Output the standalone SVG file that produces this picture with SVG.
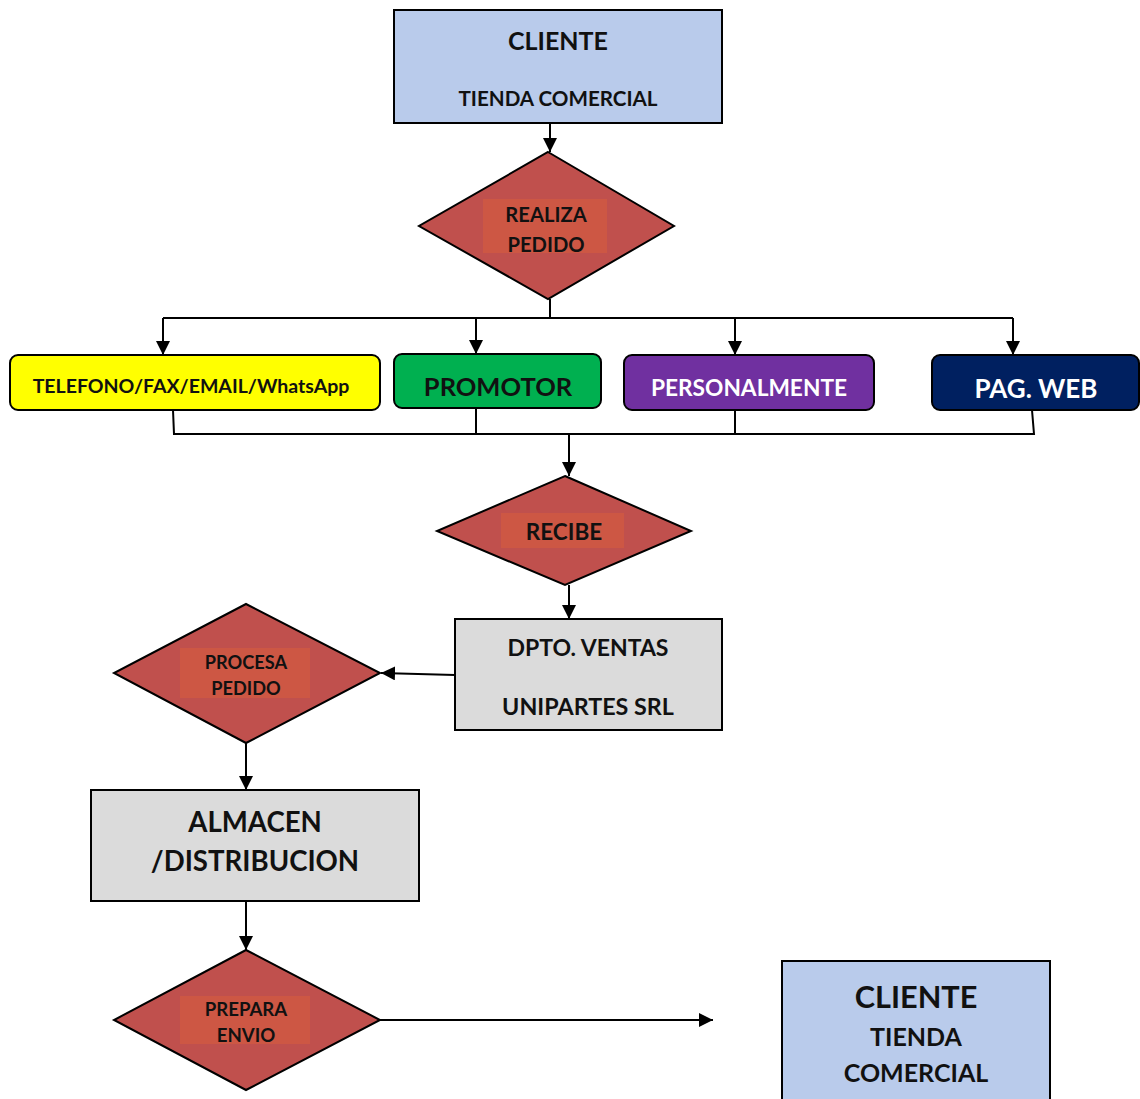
<svg xmlns="http://www.w3.org/2000/svg" width="1140" height="1099" viewBox="0 0 1140 1099">
<style>
text{font-family:Lato,"Open Sans","Liberation Sans",sans-serif;font-weight:bold;text-anchor:middle;dominant-baseline:central;fill:#111}
.w{fill:#fff}
.dia{fill:#C0504D;stroke:#000;stroke-width:2}
.inner{fill:#CD5744}
.box{stroke:#000;stroke-width:2}
.c{fill:none;stroke:#000;stroke-width:2}
</style>
<defs>
<marker id="a" viewBox="0 0 14 14" refX="14" refY="7" markerWidth="14" markerHeight="14" markerUnits="userSpaceOnUse" orient="auto">
<path d="M0,0 L14,7 L0,14 z" fill="#000"/>
</marker>
</defs>
<g id="connectors">
<line class="c" x1="550" y1="123" x2="550" y2="152" marker-end="url(#a)"/>
<polyline class="c" points="550,299 550,318"/>
<line class="c" x1="163" y1="318" x2="1013" y2="318"/>
<line class="c" x1="163" y1="318" x2="163" y2="355" marker-end="url(#a)"/>
<line class="c" x1="476" y1="318" x2="476" y2="354" marker-end="url(#a)"/>
<line class="c" x1="735" y1="318" x2="735" y2="355" marker-end="url(#a)"/>
<line class="c" x1="1013" y1="318" x2="1013" y2="355" marker-end="url(#a)"/>
<polyline class="c" points="173,410 174,434 1034,434 1032,410"/>
<line class="c" x1="476" y1="408" x2="476" y2="434"/>
<line class="c" x1="735" y1="410" x2="735" y2="434"/>
<line class="c" x1="569" y1="434" x2="569" y2="476" marker-end="url(#a)"/>
<line class="c" x1="569" y1="585" x2="569" y2="619" marker-end="url(#a)"/>
<line class="c" x1="455" y1="675" x2="381" y2="673" marker-end="url(#a)"/>
<line class="c" x1="246" y1="743" x2="246" y2="790" marker-end="url(#a)"/>
<line class="c" x1="246" y1="901" x2="246" y2="950" marker-end="url(#a)"/>
<line class="c" x1="380" y1="1020" x2="713" y2="1020" marker-end="url(#a)"/>
</g>
<g id="cliente-top">
<rect class="box" x="394" y="10" width="328" height="113" fill="#B9CBEB"/>
<text x="558" y="40" font-size="25">CLIENTE</text>
<text x="558" y="98" font-size="20.6">TIENDA COMERCIAL</text>
</g>
<g id="realiza-pedido">
<polygon class="dia" points="548,152 674,226 548,299 419,226"/>
<rect class="inner" x="483" y="199" width="124" height="54"/>
<text x="546" y="214" font-size="20.2">REALIZA</text>
<text x="546" y="244" font-size="20.2">PEDIDO</text>
</g>
<g id="telefono">
<rect class="box" x="10" y="355" width="370" height="55" rx="8" fill="#FFFF00"/>
<text x="191" y="385" font-size="19.5">TELEFONO/FAX/EMAIL/WhatsApp</text>
</g>
<g id="promotor">
<rect class="box" x="394" y="354" width="207" height="54" rx="8" fill="#00B050"/>
<text x="498" y="386" font-size="25.5">PROMOTOR</text>
</g>
<g id="personalmente">
<rect class="box" x="624" y="355" width="250" height="55" rx="8" fill="#7030A0"/>
<text class="w" x="749" y="387" font-size="22.7">PERSONALMENTE</text>
</g>
<g id="pagweb">
<rect class="box" x="932" y="355" width="207" height="55" rx="8" fill="#002060"/>
<text class="w" x="1036" y="388" font-size="26">PAG. WEB</text>
</g>
<g id="recibe">
<polygon class="dia" points="565,476 691,531 565,585 437,531"/>
<rect class="inner" x="501" y="513" width="123" height="35"/>
<text x="564" y="531" font-size="22.5">RECIBE</text>
</g>
<g id="dpto-ventas">
<rect class="box" x="455" y="619" width="267" height="111" fill="#DBDBDB"/>
<text x="588" y="647" font-size="23">DPTO. VENTAS</text>
<text x="588" y="706" font-size="23.3">UNIPARTES SRL</text>
</g>
<g id="procesa-pedido">
<polygon class="dia" points="246,604 380,673 246,743 114,673"/>
<rect class="inner" x="180" y="648" width="130" height="50"/>
<text x="246" y="662" font-size="18.2">PROCESA</text>
<text x="246" y="688" font-size="18.2">PEDIDO</text>
</g>
<g id="almacen">
<rect class="box" x="91" y="790" width="328" height="111" fill="#DBDBDB"/>
<text x="255" y="821" font-size="27.6">ALMACEN</text>
<text x="255" y="860" font-size="27.6">/DISTRIBUCION</text>
</g>
<g id="prepara-envio">
<polygon class="dia" points="246,950 380,1020 246,1090 114,1020"/>
<rect class="inner" x="180" y="996" width="130" height="48"/>
<text x="246" y="1009" font-size="18.6">PREPARA</text>
<text x="246" y="1035" font-size="18.6">ENVIO</text>
</g>
<g id="cliente-bottom">
<rect class="box" x="782" y="961" width="268" height="150" fill="#B9CBEB"/>
<text x="916" y="996" font-size="30.7">CLIENTE</text>
<text x="916" y="1036" font-size="25">TIENDA</text>
<text x="916" y="1072" font-size="25">COMERCIAL</text>
</g>
</svg>
